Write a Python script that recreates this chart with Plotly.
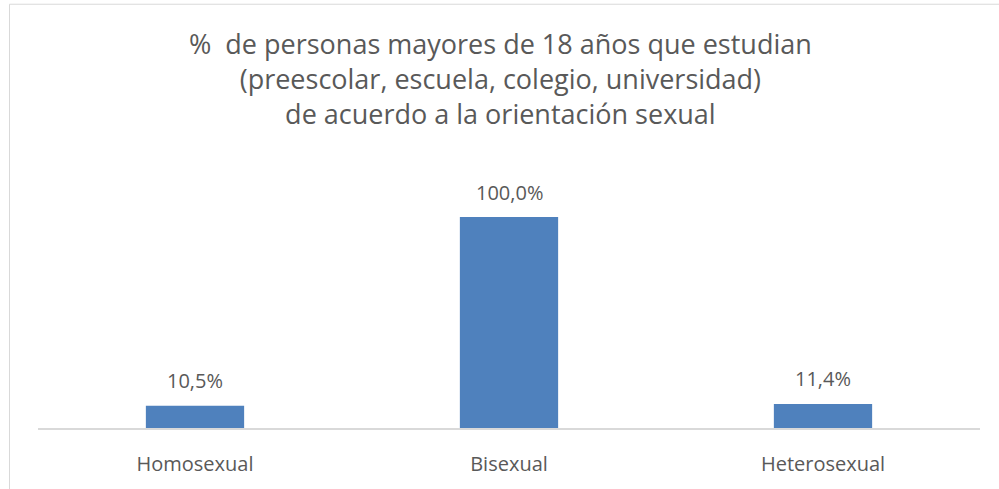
import plotly.graph_objects as go

categories = ["Homosexual", "Bisexual", "Heterosexual"]
values = [0.105, 1.000, 0.114]
labels = ["10,5%", "100,0%", "11,4%"]
title_lines = [
    "%  de personas mayores de 18 años que estudian",
    "(preescolar, escuela, colegio, universidad)",
    "de acuerdo a la orientación sexual",
]

W, H = 999, 489
PL, PR = 38, 980      # plot area left/right in px
PB, PT = 428, 195.6   # plot area bottom/top in px
YMAX = 1.1

def px_x(p):
    return (p - PL) / (PR - PL)

def px_y(p):
    return (PB - p) / (PB - PT)

FONT = "Open Sans, Liberation Sans, sans-serif"
GRAY = "#595959"

fig = go.Figure()
fig.add_trace(go.Bar(
    x=categories, y=values,
    marker=dict(color="#4F81BD", line=dict(width=0)),
    width=0.313,
    hoverinfo="skip",
))

annotations = []
for c, v, t in zip(categories, values, labels):
    annotations.append(dict(
        x=c, y=v, xref="x", yref="y", text=t, showarrow=False,
        yanchor="middle", yshift=25,
        font=dict(family=FONT, size=20, color=GRAY),
    ))
annotations.append(dict(
    x=px_x(500), y=px_y(78), xref="paper", yref="paper",
    text="<br>".join(title_lines), showarrow=False,
    xanchor="center", yanchor="middle", align="center",
    font=dict(family=FONT, size=27, color=GRAY),
))

shapes = [
    dict(type="line", xref="paper", yref="paper",
         x0=px_x(9.5), x1=px_x(9.5), y0=px_y(3.5), y1=px_y(495),
         line=dict(color="#D9D9D9", width=1)),
    dict(type="line", xref="paper", yref="paper",
         x0=px_x(9.5), x1=px_x(1005), y0=px_y(3.5), y1=px_y(3.5),
         line=dict(color="#D9D9D9", width=1)),
]

fig.update_layout(
    width=W, height=H,
    margin=dict(l=PL, r=W - PR, t=PT, b=H - PB, pad=0),
    paper_bgcolor="white", plot_bgcolor="white",
    showlegend=False,
    annotations=annotations,
    shapes=shapes,
    bargap=0.69,
    xaxis=dict(
        showline=True, linecolor="#D9D9D9", linewidth=1.5,
        showgrid=False, ticks="", zeroline=False,
        tickfont=dict(family=FONT, size=20, color=GRAY),
        ticklabelstandoff=17,
        fixedrange=True,
    ),
    yaxis=dict(
        range=[0, YMAX], visible=False, showgrid=False, zeroline=False,
        fixedrange=True,
    ),
)

fig.write_html(
    "out.html",
    config={"displayModeBar": False},
    post_script="document.body.style.margin='0';document.body.style.overflow='hidden';",
)
